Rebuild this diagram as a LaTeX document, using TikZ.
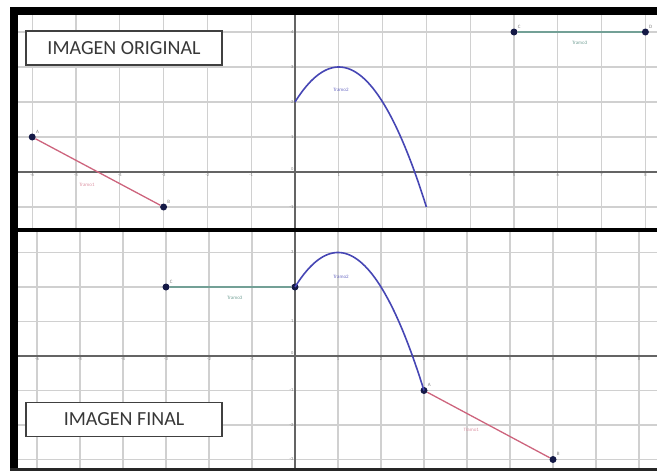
\documentclass[tikz,border=0pt]{standalone}
\usepackage{fontspec}
\setmainfont{Carlito}
\usetikzlibrary{calc}

\definecolor{gridgray}{RGB}{208,208,208}
\definecolor{axisgray}{RGB}{100,100,100}
\definecolor{tramored}{RGB}{205,100,125}
\definecolor{tramoblue}{RGB}{70,70,180}
\definecolor{tramogreen}{RGB}{115,160,150}
\definecolor{dotblue}{RGB}{20,25,70}

\tikzset{
  gridline/.style={gridgray, line width=1.3pt},
  axisline/.style={axisgray, line width=1.6pt},
  ticklabel/.style={font=\fontsize{4.5}{5}\selectfont, text=gray, inner sep=1.5pt},
  ptdot/.style={circle, fill=dotblue, inner sep=0pt, minimum size=7pt},
  ptlabel/.style={font=\fontsize{5}{6}\selectfont, text=gray, inner sep=1pt},
  tramolabel/.style={font=\fontsize{5}{6}\selectfont, inner sep=1pt},
  titlebox/.style={draw=black!75, line width=1.2pt, fill=white, minimum width=196pt,
    minimum height=34pt, font=\fontsize{20}{24}\selectfont, text=black!78},
}

\begin{document}
\begin{tikzpicture}[x=1pt, y=-1pt]
		%%%%% START %%%%%
		\useasboundingbox (0,0) rectangle (657,471);
		
		% imagen original
		\begin{scope}
		\clip (18,15) rectangle (657,228);
		\begin{scope}[shift={(295,172)}, x=43.8pt, y=35pt]
			\foreach \i in {-6,...,8} \draw[gridline] (\i,-2) -- (\i,5);
			\foreach \j in {-1,...,4} \draw[gridline] (-8,\j) -- (9,\j);
			\draw[axisline] (-8,0) -- (9,0);
			\draw[axisline] (0,-2) -- (0,5);
			\foreach \i in {-6,...,-1,1,2,...,8} \node[ticklabel, anchor=north] at (\i,0) {\i};
			\foreach \j in {-1,1,2,3,4} \node[ticklabel, anchor=east] at (0,\j) {\j};
			\node[ticklabel, anchor=south east] at (0,0) {0};
			
			\node[ptdot] (oA) at (-6,1) {};
			\node[ptdot] (oB) at (-3,-1) {};
			\node[ptdot] (oC) at (5,4) {};
			\node[ptdot] (oD) at (8,4) {};
			\node[ptlabel, anchor=south west] at (oA.north east) {A};
			\node[ptlabel, anchor=south west] at (oB.north east) {B};
			\node[ptlabel, anchor=south west] at (oC.north east) {C};
			\node[ptlabel, anchor=south west] at (oD.north east) {D};
			
			\draw[tramored, line width=1.3pt] (oA) -- (oB);
			\draw[tramogreen, line width=1.3pt] (oC) -- (oD);
			\draw[tramoblue, line width=1.6pt, domain=0:3, samples=60] plot (\x, {3-(\x-1)^2});
			
			\node[tramolabel, text=tramored!70] at (-4.75,-0.38) {Tramo1};
			\node[tramolabel, text=tramoblue!80] at (1.05,2.35) {Tramo2};
			\node[tramolabel, text=tramogreen] at (6.5,3.7) {Tramo3};
		\end{scope}
		\end{scope}
		
		% imagen final
		\begin{scope}
		\clip (18,232) rectangle (657,468);
		\begin{scope}[shift={(295,356)}, x=43pt, y=34.5pt]
			\foreach \i in {-6,...,8} \draw[gridline] (\i,-4) -- (\i,4);
			\foreach \j in {-3,...,3} \draw[gridline] (-8,\j) -- (9,\j);
			\draw[axisline] (-8,0) -- (9,0);
			\draw[axisline] (0,-4) -- (0,4);
			\foreach \i in {-6,...,-1,1,2,...,8} \node[ticklabel, anchor=north] at (\i,0) {\i};
			\foreach \j in {-3,-2,-1,1,2,3} \node[ticklabel, anchor=east] at (0,\j) {\j};
			\node[ticklabel, anchor=south east] at (0,0) {0};
			
			\node[ptdot] (fC) at (-3,2) {};
			\node[ptdot] (fD) at (0,2) {};
			\node[ptdot] (fA) at (3,-1) {};
			\node[ptdot] (fB) at (6,-3) {};
			\node[ptlabel, anchor=south west] at (fC.north east) {C};
			\node[ptlabel, anchor=south west] at (fA.north east) {A};
			\node[ptlabel, anchor=south west] at (fB.north east) {B};
			
			\draw[tramogreen, line width=1.3pt] (fC) -- (fD);
			\draw[tramored, line width=1.3pt] (fA) -- (fB);
			\draw[tramoblue, line width=1.6pt, domain=0:3, samples=60] plot (\x, {3-(\x-1)^2});
			
			\node[tramolabel, text=tramogreen] at (-1.4,1.68) {Tramo3};
			\node[tramolabel, text=tramoblue!80] at (1.07,2.3) {Tramo2};
			\node[tramolabel, text=tramored!70] at (4.1,-2.14) {Tramo1};
		\end{scope}
		\end{scope}
		
		% rotulos
		\node[titlebox] (original) at (124,48) {IMAGEN ORIGINAL};
		\node[titlebox] (final) at (124,419.5) {IMAGEN FINAL};
		
		% marco
		\fill[black] (10,7) rectangle (18,471);
		\fill[black] (10,7) rectangle (657,15);
		\fill[black] (18,228) rectangle (657,232);
		\fill[black!85] (10,468) rectangle (657,470.5);
		
		%%%%% END %%%%%
	\end{tikzpicture}
\end{document}
